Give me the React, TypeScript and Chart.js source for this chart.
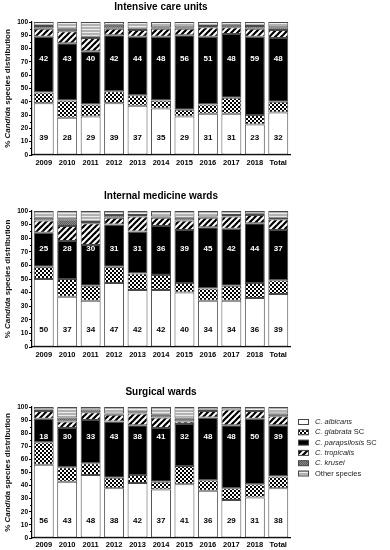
import React, { useEffect, useRef } from 'react';
import { Chart, registerables } from 'chart.js';

Chart.register(...registerables);

const FONT = '"Liberation Sans", Arial, Helvetica, sans-serif';

// ---------- data ----------
const categories = ['2009', '2010', '2011', '2012', '2013', '2014', '2015', '2016', '2017', '2018', 'Total'];

const seriesNames = ['C. albicans', 'C. glabrata SC', 'C. parapsilosis SC', 'C. tropicalis', 'C. krusei', 'Other species'];

// Intensive care units
const icuAlbicans = [39, 28, 29, 39, 37, 35, 29, 31, 31, 23, 32];
const icuGlabrata = [8, 13, 9, 9, 8, 6, 5, 7, 12, 7, 8];
const icuParapsilosis = [42, 43, 40, 42, 44, 48, 56, 51, 48, 59, 48];
const icuTropicalis = [6, 9, 10, 5, 5, 6, 5, 7, 5, 6, 6];
const icuKrusei = [2, 2, 1, 3, 1, 1, 1, 1, 2, 2, 2];
const icuOther = [3, 5, 11, 2, 5, 4, 4, 3, 2, 3, 4];

// Internal medicine wards
const imAlbicans = [50, 37, 34, 47, 42, 42, 40, 34, 34, 36, 39];
const imGlabrata = [9, 13, 11, 12, 12, 11, 7, 9, 11, 11, 10];
const imParapsilosis = [25, 28, 30, 31, 31, 36, 39, 45, 42, 44, 37];
const imTropicalis = [9, 11, 16, 5, 11, 6, 7, 7, 9, 6, 8];
const imKrusei = [2, 5, 1, 2, 1, 1, 2, 1, 1, 1, 1];
const imOther = [5, 6, 8, 3, 3, 4, 5, 4, 3, 2, 5];

// Surgical wards
const swAlbicans = [56, 43, 48, 38, 42, 37, 41, 36, 29, 31, 38];
const swGlabrata = [17, 11, 9, 8, 6, 6, 14, 8, 9, 10, 9];
const swParapsilosis = [18, 30, 33, 43, 38, 41, 32, 48, 48, 50, 39];
const swTropicalis = [6, 5, 6, 5, 9, 8, 2, 5, 12, 6, 7];
const swKrusei = [1, 3, 2, 1, 1, 2, 2, 1, 0, 0, 2];
const swOther = [2, 8, 2, 5, 4, 6, 9, 2, 2, 3, 5];

// ---------- layout (positions only) ----------
type Panel = {
  title: string;
  series: number[][];
  canvasTop: number;
  canvasHeight: number;
  plotTop: number; // within canvas
  plotBottom: number; // within canvas
  titleY: number; // within canvas
  tickPad: number;
  paraLabelAt: number;
  albLabelAt: number;
  legend: boolean;
};

const panels: Panel[] = [
  {
    title: 'Intensive care units',
    series: [icuAlbicans, icuGlabrata, icuParapsilosis, icuTropicalis, icuKrusei, icuOther],
    canvasTop: 0, canvasHeight: 174, plotTop: 22, plotBottom: 155, titleY: 7, tickPad: 3,
    paraLabelAt: 72, albLabelAt: 13, legend: false,
  },
  {
    title: 'Internal medicine wards',
    series: [imAlbicans, imGlabrata, imParapsilosis, imTropicalis, imKrusei, imOther],
    canvasTop: 178, canvasHeight: 184, plotTop: 33, plotBottom: 169, titleY: 18, tickPad: 3,
    paraLabelAt: 72, albLabelAt: 13, legend: false,
  },
  {
    title: 'Surgical wards',
    series: [swAlbicans, swGlabrata, swParapsilosis, swTropicalis, swKrusei, swOther],
    canvasTop: 368, canvasHeight: 182, plotTop: 39, plotBottom: 170, titleY: 24, tickPad: 2,
    paraLabelAt: 77, albLabelAt: 13, legend: true,
  },
];

const PLOT_LEFT = 32;
const PLOT_RIGHT = 290;
const WIDTH = 390;

function makePatterns(): (CanvasPattern | string)[] {
  const mk = (w: number, h: number, draw: (g: CanvasRenderingContext2D) => void) => {
    const c = document.createElement('canvas');
    c.width = w;
    c.height = h;
    const g = c.getContext('2d')!;
    draw(g);
    return g.createPattern(c, 'repeat')!;
  };
  const glabrata = mk(4, 4, (g) => {
    g.fillStyle = '#fff';
    g.fillRect(0, 0, 4, 4);
    g.fillStyle = '#000';
    g.fillRect(0, 0, 2, 2);
    g.fillRect(2, 2, 2, 2);
  });
  const tropicalis = mk(6, 6, (g) => {
    g.fillStyle = '#fff';
    g.fillRect(0, 0, 6, 6);
    g.strokeStyle = '#000';
    g.lineWidth = 2.2;
    for (const o of [-6, 0, 6]) {
      g.beginPath();
      g.moveTo(o - 1, 7);
      g.lineTo(o + 7, -1);
      g.stroke();
    }
  });
  const krusei = mk(2, 2, (g) => {
    g.fillStyle = '#5a5a5a';
    g.fillRect(0, 0, 2, 2);
    g.fillStyle = '#8a8a8a';
    g.fillRect(0, 0, 1, 1);
    g.fillRect(1, 1, 1, 1);
  });
  const other = mk(1, 3, (g) => {
    g.fillStyle = '#b2b2b2';
    g.fillRect(0, 0, 1, 3);
    g.fillStyle = '#ececec';
    g.fillRect(0, 2, 1, 1);
  });
  return ['#ffffff', glabrata, '#000000', tropicalis, krusei, other];
}

function drawMixed(ctx: CanvasRenderingContext2D, parts: { t: string; it: boolean }[], size: number, weight: string, x: number, y: number, align: 'left' | 'center') {
  const fonts = parts.map((p) => `${p.it ? 'italic ' : ''}${weight} ${size}px ${FONT}`);
  const widths = parts.map((p, i) => {
    ctx.font = fonts[i];
    return ctx.measureText(p.t).width;
  });
  const total = widths.reduce((a, b) => a + b, 0);
  let cx = align === 'center' ? x - total / 2 : x;
  ctx.textAlign = 'left';
  ctx.textBaseline = 'middle';
  parts.forEach((p, i) => {
    ctx.font = fonts[i];
    ctx.fillText(p.t, cx, y);
    cx += widths[i];
  });
}

function splitLegendLabel(label: string) {
  if (label.startsWith('C. ')) {
    const m = label.match(/^(C\. \S+)(.*)$/);
    if (m) return [{ t: m[1], it: true }, { t: m[2], it: false }];
  }
  return [{ t: label, it: false }];
}

function PanelChart({ panel }: { panel: Panel }) {
  const ref = useRef<HTMLCanvasElement>(null);
  useEffect(() => {
    const canvas = ref.current!;
    const patterns = makePatterns();
    const xAxisHeight = panel.canvasHeight - panel.plotBottom;

    const decor = {
      id: 'decor',
      afterDraw(chart: any) {
        const ctx: CanvasRenderingContext2D = chart.ctx;
        const area = chart.chartArea;
        const y = chart.scales.y;
        ctx.save();
        // title
        ctx.fillStyle = '#000';
        ctx.font = `bold 10px ${FONT}`;
        ctx.textAlign = 'center';
        ctx.textBaseline = 'middle';
        ctx.fillText(panel.title, (area.left + area.right) / 2, panel.titleY);
        // minor ticks
        ctx.strokeStyle = '#000';
        ctx.lineWidth = 1;
        for (let v = 5; v < 100; v += 10) {
          const py = Math.round(y.getPixelForValue(v)) + 0.5;
          ctx.beginPath();
          ctx.moveTo(area.left - 2, py);
          ctx.lineTo(area.left, py);
          ctx.stroke();
        }
        // y title
        ctx.save();
        ctx.translate(7.5, (area.top + area.bottom) / 2);
        ctx.rotate(-Math.PI / 2);
        ctx.fillStyle = '#111';
        drawMixed(ctx, [
          { t: '% ', it: false },
          { t: 'Candida', it: true },
          { t: ' species distribution', it: false },
        ], 8, 'bold', 0, 0, 'center');
        ctx.restore();
        // value labels
        const albMeta = chart.getDatasetMeta(0);
        const paraMeta = chart.getDatasetMeta(2);
        ctx.font = `bold 8px ${FONT}`;
        ctx.textAlign = 'center';
        ctx.textBaseline = 'middle';
        const ds = chart.data.datasets;
        albMeta.data.forEach((el: any, i: number) => {
          ctx.fillStyle = '#000';
          ctx.fillText(String(ds[0].data[i]), el.x, y.getPixelForValue(panel.albLabelAt));
        });
        paraMeta.data.forEach((el: any, i: number) => {
          ctx.fillStyle = '#fff';
          ctx.fillText(String(ds[2].data[i]), el.x, y.getPixelForValue(panel.paraLabelAt));
        });
        // legend
        if (panel.legend) {
          ds.forEach((d: any, i: number) => {
            const cy = 54 + i * 10.3;
            ctx.fillStyle = d.backgroundColor;
            ctx.fillRect(298, cy - 2.5, 10, 5);
            ctx.strokeStyle = '#444';
            ctx.lineWidth = 1;
            ctx.strokeRect(298.5, cy - 2.5, 10, 5);
            ctx.fillStyle = '#222';
            drawMixed(ctx, splitLegendLabel(d.label), 7.5, 'normal', 315, cy, 'left');
          });
        }
        ctx.restore();
      },
    };

    const chart = new Chart(canvas, {
      type: 'bar',
      data: {
        labels: categories,
        datasets: panel.series.map((s, i) => ({
          label: seriesNames[i],
          data: s,
          backgroundColor: patterns[i] as any,
          borderColor: '#4a4a4a',
          borderWidth: 1,
          borderSkipped: false,
          barPercentage: 0.85,
          categoryPercentage: 1,
        })),
      },
      options: {
        animation: false,
        responsive: false,
        devicePixelRatio: 1,
        layout: { padding: { left: 0, right: WIDTH - PLOT_RIGHT, top: panel.plotTop, bottom: 0 } },
        plugins: {
          legend: { display: false },
          title: { display: false },
          tooltip: { enabled: false },
        },
        scales: {
          x: {
            stacked: true,
            grid: { display: false, drawTicks: false },
            border: { display: true, color: '#000', width: 1.2 },
            ticks: {
              color: '#000',
              font: { family: FONT, size: 7.5, weight: 'bold' },
              padding: panel.tickPad,
              maxRotation: 0,
              autoSkip: false,
            },
            afterFit: (scale: any) => {
              scale.height = xAxisHeight;
            },
          },
          y: {
            stacked: true,
            min: 0,
            max: 100,
            grid: { drawOnChartArea: false, drawTicks: true, tickLength: 3, color: '#000' },
            border: { display: true, color: '#000', width: 1.2 },
            ticks: {
              stepSize: 10,
              color: '#000',
              font: { family: FONT, size: 6.5, weight: 'bold' },
              padding: 1,
            },
            afterFit: (scale: any) => {
              scale.width = PLOT_LEFT;
            },
          },
        },
      },
      plugins: [decor],
    });
    return () => chart.destroy();
  }, [panel]);

  return (
    <canvas
      ref={ref}
      width={WIDTH}
      height={panel.canvasHeight}
      style={{ position: 'absolute', left: 0, top: panel.canvasTop, width: WIDTH, height: panel.canvasHeight }}
    />
  );
}

export default function App() {
  return (
    <div style={{ position: 'absolute', left: 0, top: 0, width: WIDTH, height: 550, background: '#fff', overflow: 'hidden' }}>
      {panels.map((p) => (
        <PanelChart key={p.title} panel={p} />
      ))}
    </div>
  );
}
